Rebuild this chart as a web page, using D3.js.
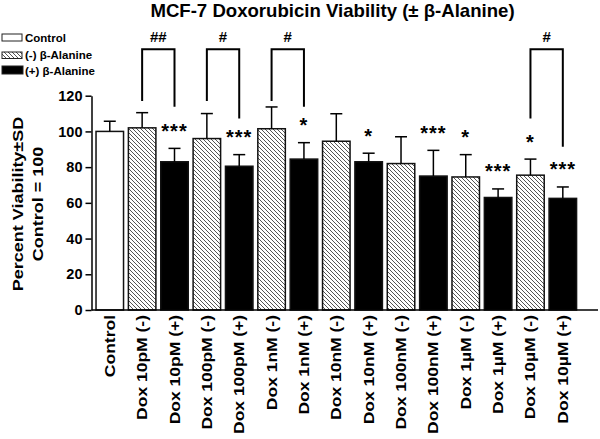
<!DOCTYPE html>
<html><head><meta charset="utf-8">
<script src="https://cdn.jsdelivr.net/npm/d3@7"></script>
<style>body{margin:0;background:#fff}svg{display:block;font-family:Arial,"Liberation Sans",sans-serif}</style>
</head><body><svg id="c" width="600" height="439"></svg>
<script>
const categories = ["Control","Dox 10pM (-)","Dox 10pM (+)","Dox 100pM (-)","Dox 100pM (+)","Dox 1nM (-)","Dox 1nM (+)","Dox 10nM (-)","Dox 10nM (+)","Dox 100nM (-)","Dox 100nM (+)","Dox 1\u00b5M (-)","Dox 1\u00b5M (+)","Dox 10\u00b5M (-)","Dox 10\u00b5M (+)"];
const groups = ["control","minus","plus","minus","plus","minus","plus","minus","plus","minus","plus","minus","plus","minus","plus"];
const means = [100,102,83,96,80.5,101.5,84.5,94.5,83,82,75,74.5,63,75.5,62.5];
const sds = [5.7,8.5,7.5,14,6.5,12.2,9.2,15.4,4.8,15,14.4,12.5,4.8,9,6.4];
const stars = ["","","***","","***","","*","","*","","***","*","***","*","***"];
const bracketLeftIdx = [1,3,5,13];
const bracketRightIdx = [2,4,6,14];
const bracketLabels = ["##","#","#","#"];
const bracketLeftEnd = [117,117,117,107.3];
const bracketRightEnd = [113.8,107.3,113.8,91.4];
const bracketTop = 146;
const yTicks = [0,20,40,60,80,100,120];
const legendLabels = ["Control","(-) \u03b2-Alanine","(+) \u03b2-Alanine"];
const legendGroups = ["control","minus","plus"];
const titleText = "MCF-7 Doxorubicin Viability (\u00b1 \u03b2-Alanine)";
const yTitleLines = ["Percent Viability\u00b1SD","Control = 100"];

const svg = d3.select("#c");
const defs = svg.append("defs");
const pat = defs.append("pattern").attr("id","hatch").attr("patternUnits","userSpaceOnUse").attr("width",4).attr("height",4);
pat.append("rect").attr("width",4).attr("height",4).attr("fill","#fff");
pat.append("path").attr("d","M-1,-1 L5,5 M-1,3 L1,5 M3,-1 L5,1").attr("stroke","#555").attr("stroke-width",1);
const fillFor = g => g==="control" ? "#fff" : g==="minus" ? "url(#hatch)" : "#000";

const x = d3.scaleBand().domain(categories).range([93.6, 93.6+32.36*15]).paddingInner(0.15).paddingOuter(0.075);
const y = d3.scaleLinear().domain([0,120]).range([310,95.7]);
const axisX = 91.5;

// title
svg.append("text").attr("x",332.5).attr("y",16.5).attr("text-anchor","middle")
  .attr("font-size",18.6).attr("font-weight","bold").text(titleText);

// y axis
const ya = svg.append("g").attr("transform",`translate(${axisX},0)`)
  .call(d3.axisLeft(y).tickValues(yTicks).tickSize(6).tickPadding(3).tickSizeOuter(0));
ya.select(".domain").attr("stroke","#000").attr("stroke-width",1.5);
ya.selectAll(".tick line").attr("stroke","#000").attr("stroke-width",1.5);
ya.selectAll(".tick text").attr("font-size",14.5).attr("font-weight","bold").attr("font-family","Arial,'Liberation Sans',sans-serif").attr("fill","#000");

// y title
yTitleLines.forEach((t,i)=>{
  svg.append("text").attr("transform",`translate(${i===0?23:43},204) rotate(-90) scale(1,0.8)`)
    .attr("text-anchor","middle").attr("font-size",18).attr("font-weight","bold").text(t);
});

// bars
svg.selectAll("rect.bar").data(categories).join("rect").attr("class","bar")
  .attr("x",d=>x(d)).attr("width",x.bandwidth())
  .attr("y",(d,i)=>y(means[i])).attr("height",(d,i)=>y(0)-y(means[i]))
  .attr("fill",(d,i)=>fillFor(groups[i])).attr("stroke","#111").attr("stroke-width",1.5);

// error bars
categories.forEach((c,i)=>{
  const cx = x(c)+x.bandwidth()/2;
  const top = y(means[i]+sds[i]);
  svg.append("line").attr("x1",cx).attr("x2",cx).attr("y1",y(means[i])).attr("y2",top).attr("stroke","#000").attr("stroke-width",1.5);
  svg.append("line").attr("x1",cx-6).attr("x2",cx+6).attr("y1",top).attr("y2",top).attr("stroke","#000").attr("stroke-width",1.5);
  if (stars[i]) {
    svg.append("text").attr("x",cx).attr("y",top-10.5).attr("text-anchor","middle")
      .attr("font-size",20).attr("font-weight","bold").attr("letter-spacing",1).text(stars[i]);
  }
});

// x axis line
svg.append("line").attr("x1",axisX).attr("x2",598).attr("y1",y(0)).attr("y2",y(0)).attr("stroke","#000").attr("stroke-width",1.5);

// x labels
categories.forEach((c,i)=>{
  const cx = x(c)+x.bandwidth()/2;
  svg.append("text").attr("transform",`translate(${cx+5},315) rotate(-90) scale(1,0.8)`)
    .attr("text-anchor","end").attr("font-size",17.5).attr("font-weight","bold").text(c);
});

// brackets
bracketLabels.forEach((lab,k)=>{
  const x1 = x(categories[bracketLeftIdx[k]])+x.bandwidth()/2;
  const x2 = x(categories[bracketRightIdx[k]])+x.bandwidth()/2;
  const yt = y(bracketTop);
  svg.append("path").attr("d",`M${x1},${y(bracketLeftEnd[k])}V${yt}H${x2}V${y(bracketRightEnd[k])}`)
    .attr("fill","none").attr("stroke","#000").attr("stroke-width",2);
  svg.append("text").attr("x",(x1+x2)/2).attr("y",41.5).attr("text-anchor","middle")
    .attr("font-size",15).attr("font-weight","bold").text(lab);
});

// legend
const legRects = [[2,34,20,7],[2,52,20,6.5],[2,66,21,8]];
const legTextY = [41.5,59,74.5];
legendLabels.forEach((l,i)=>{
  const r = legRects[i];
  svg.append("rect").attr("x",r[0]).attr("y",r[1]).attr("width",r[2]).attr("height",r[3])
    .attr("fill",fillFor(legendGroups[i])).attr("stroke","#222").attr("stroke-width",1);
  svg.append("text").attr("x",25).attr("y",legTextY[i]).attr("font-size",11.5).attr("font-weight","bold").text(l);
});
</script></body></html>
